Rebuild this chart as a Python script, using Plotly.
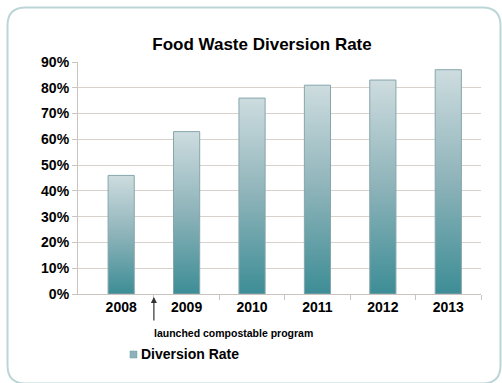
import plotly.graph_objects as go

# ---- data ----
years = ["2008", "2009", "2010", "2011", "2012", "2013"]
diversion_rate = [0.46, 0.63, 0.76, 0.81, 0.83, 0.87]
series_name = "Diversion Rate"
title_text = "Food Waste Diversion Rate"
note_text = "launched compostable program"
y_ticks = [0.0, 0.1, 0.2, 0.3, 0.4, 0.5, 0.6, 0.7, 0.8, 0.9]

FONT = "Liberation Sans, Arial, sans-serif"
W, H = 502, 383
L, R, T, B = 78, 21, 62, 89
PW, PH = W - L - R, H - T - B
bar_w = 0.40


def px_x(px):
    return (px - L) / PW


def px_y(py):
    return (H - B - py) / PH


fig = go.Figure()

grad = dict(type="vertical", colorscale=[[0, "#3d8d96"], [0.5, "#8db3b9"], [1, "#cddcdf"]])

for i, v in enumerate(diversion_rate):
    xs = [i - bar_w / 2, i - bar_w / 2, i + bar_w / 2, i + bar_w / 2, i - bar_w / 2]
    ys = [0, v, v, 0, 0]
    g = dict(grad)
    g["start"] = 0
    g["stop"] = v
    fig.add_trace(go.Scatter(
        x=xs, y=ys, mode="lines", fill="toself", fillgradient=g,
        line=dict(color="#86a6ab", width=1), hoverinfo="skip", showlegend=False,
        name=series_name,
    ))

fig.update_layout(
    width=W, height=H,
    margin=dict(l=L, r=R, t=T, b=B),
    paper_bgcolor="white", plot_bgcolor="white",
    font=dict(family=FONT, color="#000000"),
    title=dict(text="<b>%s</b>" % title_text, x=262 / W, xanchor="center",
               y=1 - 44 / H, yanchor="middle", font=dict(size=17, family=FONT, color="#000")),
    xaxis=dict(
        range=[-0.66, 5.5], tickmode="array", tickvals=list(range(len(years))),
        ticktext=["<b>%s</b>" % y for y in years], ticks="", showgrid=False,
        showline=True, linecolor="#cbc3bd", linewidth=1.2, zeroline=False,
        tickfont=dict(size=14, family=FONT, color="#000"),
        minor=dict(tickmode="array", tickvals=[k + 0.5 for k in range(len(years))],
                   ticks="outside", ticklen=5, tickcolor="#cbc3bd", showgrid=False),
        fixedrange=True,
    ),
    yaxis=dict(
        range=[0, 0.9], tickmode="array", tickvals=y_ticks,
        ticktext=["<b>%d%%</b>" % round(t * 100) for t in y_ticks],
        ticks="outside", ticklen=5, tickcolor="#cbc3bd",
        showgrid=True, gridcolor="#d9d2cc", gridwidth=1.3,
        showline=True, linecolor="#cbc3bd", linewidth=1.2, zeroline=False,
        tickfont=dict(size=14, family=FONT, color="#000"),
        fixedrange=True,
    ),
    showlegend=False,
)

# legend (manual): swatch + label
fig.add_shape(type="rect", xref="paper", yref="paper",
              x0=px_x(130), x1=px_x(137), y0=px_y(358), y1=px_y(351),
              fillcolor="#8db3b9", line=dict(color="#6f9fa6", width=0.5))
fig.add_annotation(x=px_x(139), xref="paper", y=px_y(354), yref="paper",
                   xanchor="left", yanchor="middle", showarrow=False,
                   text="<b>%s</b>" % series_name, font=dict(size=14, family=FONT, color="#000"))

# arrow for note
fig.add_annotation(x=0.5, xref="x", y=px_y(297), yref="paper",
                   ax=0, ay=25, showarrow=True, arrowhead=2, arrowsize=1, arrowwidth=1.2,
                   arrowcolor="#333333", text="")
fig.add_annotation(x=0.5 - 2 / 65.4, xref="x", y=px_y(333), yref="paper",
                   xanchor="left", yanchor="middle", showarrow=False,
                   text="<b>%s</b>" % note_text, font=dict(size=10.5, family=FONT, color="#000"))

# rounded frame (pixel coords converted to paper)
fx0, fy0, fx1, fy1, r = 7.5, 7.5, 500.5, 383.5, 18
P = lambda a, b: f"{px_x(a)},{px_y(b)}"
path = (f"M {P(fx0 + r, fy0)} L {P(fx1 - r, fy0)} Q {P(fx1, fy0)} {P(fx1, fy0 + r)} "
        f"L {P(fx1, fy1 - r)} Q {P(fx1, fy1)} {P(fx1 - r, fy1)} L {P(fx0 + r, fy1)} "
        f"Q {P(fx0, fy1)} {P(fx0, fy1 - r)} L {P(fx0, fy0 + r)} Q {P(fx0, fy0)} {P(fx0 + r, fy0)} Z")
fig.add_shape(type="path", path=path, xref="paper", yref="paper",
              line=dict(color="#bcd5d6", width=2), layer="below")

fig.write_html("out.html")
